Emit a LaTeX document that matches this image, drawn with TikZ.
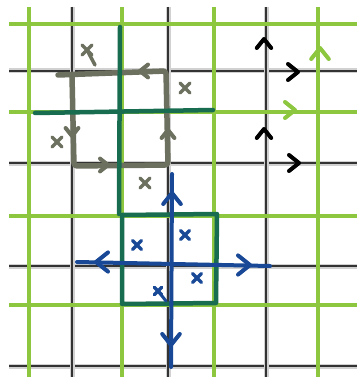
\documentclass[tikz,border=0pt]{standalone}
\definecolor{lgreen}{RGB}{141,198,63}
\definecolor{dgreen}{RGB}{24,108,80}
\definecolor{loopgray}{RGB}{108,112,94}
\definecolor{pblue}{RGB}{24,72,150}
\tikzset{
  halo/.style={line width=5pt,black!18},
  bline/.style={line width=1.6pt,black!80},
  gline/.style={line width=4pt,lgreen},
  stroke/.style={line width=4pt,line cap=round,line join=round},
  chev/.pic={\draw[stroke] (-#1,-#1*0.8) -- (0,0) -- (-#1,#1*0.8);},
  xmark/.pic={\draw[stroke,line width=3.5pt] (-5,-5) -- (5,5) (-5,5) -- (5,-5);},
}
\begin{document}
\begin{tikzpicture}[x=1pt,y=-1pt]
\useasboundingbox (0,0) rectangle (357,377);
\fill[white] (0,0) rectangle (357,377);
% black grid
\foreach \y in {71,163,266,366} {\draw[halo] (9,\y) -- (357,\y); \draw[bline] (9,\y) -- (357,\y);}
\foreach \x in {72,168,266} {\draw[halo] (\x,7) -- (\x,377); \draw[bline] (\x,7) -- (\x,377);}
% green grid
\foreach \y in {24,112,216,305} \draw[gline] (9,\y) -- (357,\y);
\foreach \x in {29,122,214,318} \draw[gline] (\x,7) -- (\x,377);
% gray loop
\begin{scope}[loopgray]
\draw[stroke,line width=5.5pt,rounded corners=3pt] (58,75) -- (166,71) -- (168,165) -- (74,166) -- (72,76);
\pic[rotate=180] at (140,71) {chev=8};
\pic[rotate=-90] at (72,136) {chev=8};
\pic at (108,165) {chev=8};
\pic[rotate=90] at (168,130) {chev=8};
\pic at (87,50) {xmark};
\draw[stroke,line width=3.5pt] (87,50) -- (95,65);
\pic at (185,88) {xmark};
\pic at (57,142) {xmark};
\pic at (145,183) {xmark};
\end{scope}
% dark green cross and square
\begin{scope}[dgreen,line width=4.5pt]
\draw[stroke,line width=4.5pt] (120,27) -- (119,214);
\draw[stroke,line width=4.5pt] (35,113) -- (213,110);
\draw[stroke,line width=4.5pt] (122,215) -- (217,214) -- (216,303) -- (122,304) -- cycle;
\end{scope}
% blue cross
\begin{scope}[pblue]
\draw[stroke] (172,174) -- (171,367);
\draw[stroke] (77,262) -- (270,266);
\pic[rotate=90] at (172,193) {chev=11};
\pic[rotate=-90] at (171,345) {chev=11};
\pic[rotate=180] at (96,262) {chev=12};
\pic at (250,265) {chev=12};
\pic[scale=0.9] at (137,245) {xmark};
\pic[scale=0.9] at (185,235) {xmark};
\pic[scale=0.9] at (197,278) {xmark};
\pic[scale=0.75] at (158,291) {xmark};
\draw[stroke,line width=3pt] (158,291) -- (166,301);
\end{scope}
% right chevrons
\pic[black,rotate=90] at (264,39) {chev=9};
\pic[black] at (298,72) {chev=10};
\pic[black,rotate=90] at (264,129) {chev=9};
\pic[black] at (299,163) {chev=10};
\pic[lgreen,rotate=90] at (320,48) {chev=11};
\pic[lgreen] at (295,110) {chev=10};
\end{tikzpicture}
\end{document}
